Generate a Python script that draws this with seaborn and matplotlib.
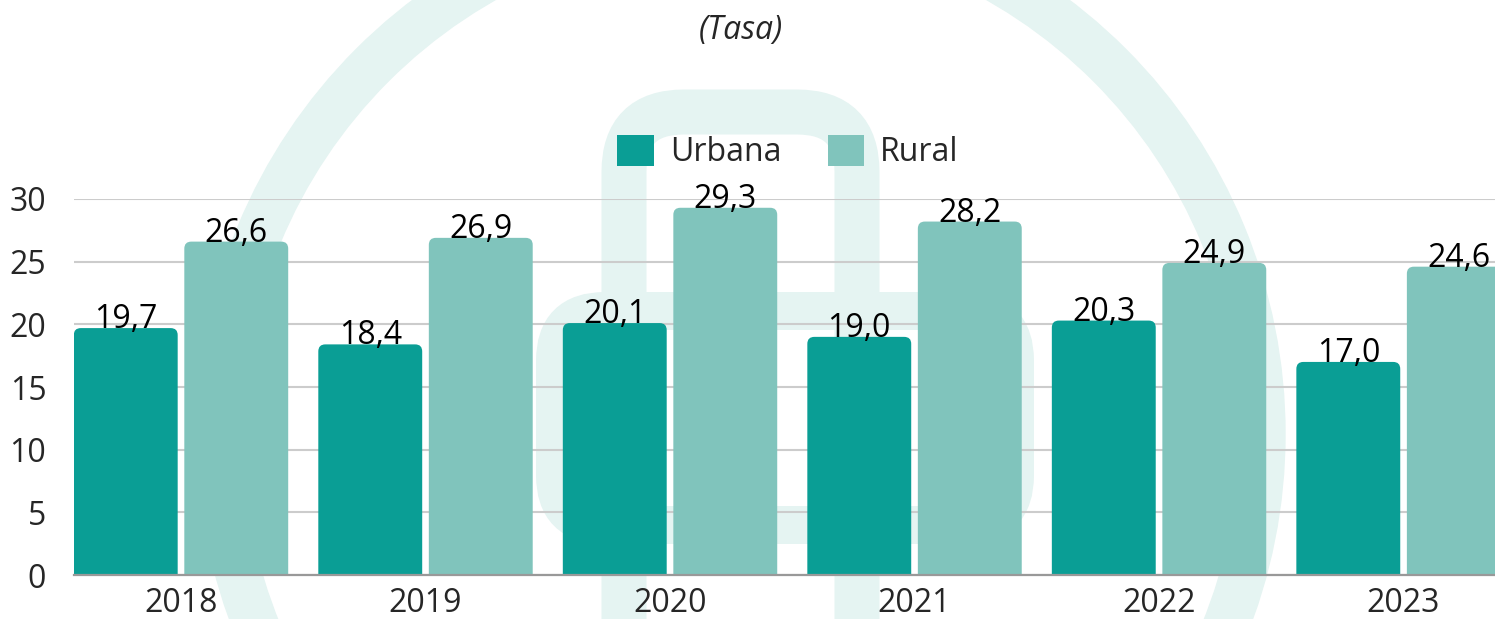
import matplotlib
matplotlib.use("Agg")
import matplotlib.pyplot as plt
from matplotlib.patches import FancyBboxPatch, Wedge, Patch
from matplotlib.transforms import IdentityTransform
import seaborn as sns
import pandas as pd

# data
years = ["2018", "2019", "2020", "2021", "2022", "2023"]
urbana = [19.7, 18.4, 20.1, 19.0, 20.3, 17.0]
rural = [26.6, 26.9, 29.3, 28.2, 24.9, 24.6]
series = ["Urbana", "Rural"]
colors = {"Urbana": "#0A9E95", "Rural": "#80C4BC"}
yticks = [0, 5, 10, 15, 20, 25, 30]

df = pd.DataFrame({
    "year": years * 2,
    "value": urbana + rural,
    "zona": ["Urbana"] * len(years) + ["Rural"] * len(years),
})

sns.set_style("white")
plt.rcParams["font.family"] = ["Open Sans", "DejaVu Sans"]

fig = plt.figure(figsize=(14.95, 6.19), dpi=100)
ax = fig.add_axes([74 / 1495, 44 / 619, 1421 / 1495, 376 / 619])
ax.set_facecolor("none")

# faint logo watermark behind the chart
wm = "#E5F4F2"
fig.patches.append(Wedge((741, 185), 544, 0, 360, width=45, color=wm,
                         transform=IdentityTransform(), zorder=-2))
fig.patches.append(FancyBboxPatch((624, -100), 233, 607,
                                  boxstyle="round,pad=0,rounding_size=60",
                                  fill=False, ec=wm, lw=45 * 0.72,
                                  transform=IdentityTransform(), zorder=-2))
fig.patches.append(FancyBboxPatch((555, 94), 460, 214,
                                  boxstyle="round,pad=0,rounding_size=50",
                                  fill=False, ec=wm, lw=38 * 0.72,
                                  transform=IdentityTransform(), zorder=-2))

sns.barplot(data=df, x="year", y="value", hue="zona", hue_order=series,
            palette=colors, width=0.904, gap=0.06, legend=False, ax=ax,
            saturation=1, err_kws={"linewidth": 0})

ax.set_xlim(-0.4376, 5.374)
ax.set_ylim(0, 30)

# rounded top corners on the bars
asp = (7 / 12.53) / (7 / 244.5)
for p in list(ax.patches):
    x, w, h = p.get_x(), p.get_width(), p.get_height()
    fc = p.get_facecolor()
    p.remove()
    ax.add_patch(FancyBboxPatch((x, -1), w, h + 1,
                                boxstyle=f"round,pad=0,rounding_size={7 / 244.5}",
                                mutation_aspect=asp, fc=fc, ec="none", zorder=2))

# value labels
for i, (u, r) in enumerate(zip(urbana, rural)):
    for off, v in ((-0.226, u), (0.226, r)):
        ax.text(i + off, v, f"{v:.1f}".replace(".", ","), ha="center",
                va="baseline", fontsize=23, color="black", zorder=3,
                clip_on=False)

ax.set_yticks(yticks)
ax.grid(axis="y", color="#CCCCCC", linewidth=1.5, zorder=0)
ax.set_axisbelow(True)
for s in ("top", "right", "left"):
    ax.spines[s].set_visible(False)
ax.spines["bottom"].set_color("#999999")
ax.spines["bottom"].set_linewidth(1.6)
ax.tick_params(axis="y", length=0, labelsize=23, pad=20)
ax.tick_params(axis="x", length=0, labelsize=23, pad=9)
ax.set_xlabel("")
ax.set_ylabel("")

handles = [Patch(facecolor=colors[s], edgecolor="none", label=s) for s in series]
fig.legend(handles=handles, loc="center", bbox_to_anchor=(788 / 1495, 1 - 152 / 619),
           ncol=2, frameon=False, fontsize=23, handlelength=1.15, handleheight=1.15,
           handletextpad=0.5, columnspacing=1.45)

fig.text(741 / 1495, 1 - 30 / 619, "(Tasa)", ha="center", va="center",
         fontsize=23, style="italic")

fig.savefig("out.png", dpi=100, facecolor="white")
